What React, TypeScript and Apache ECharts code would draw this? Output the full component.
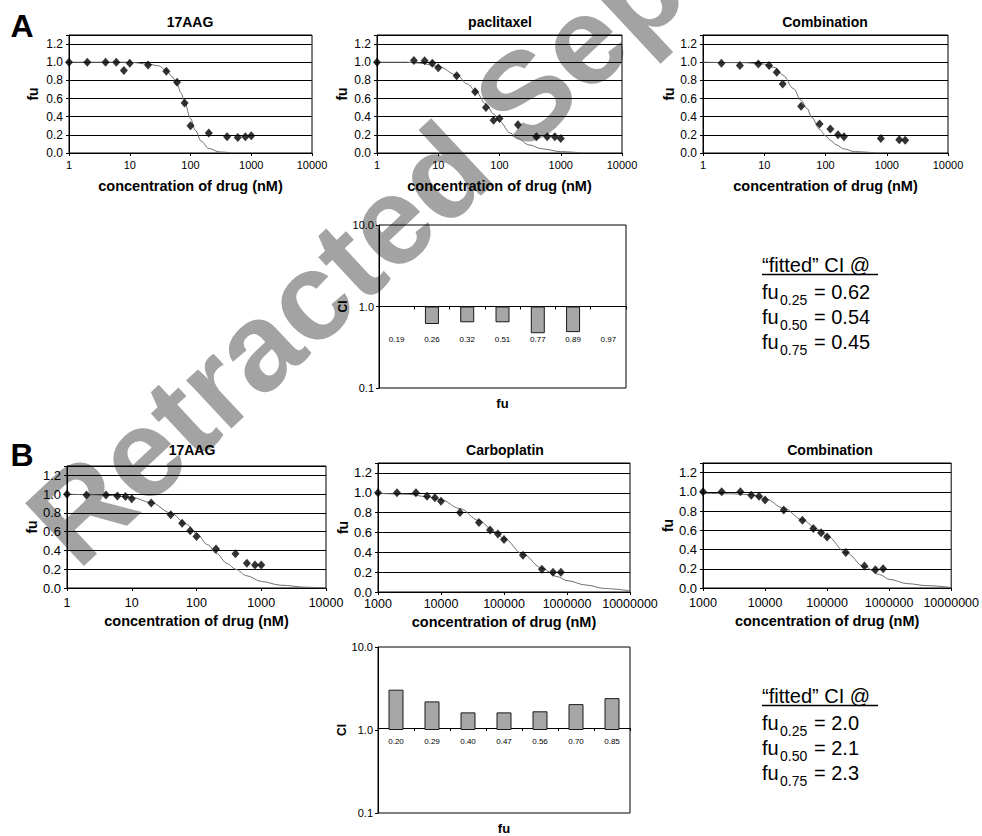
import React, { useEffect, useRef } from 'react';
import * as echarts from 'echarts';

const FONT = '"Liberation Sans", Arial, Helvetica, sans-serif';

// ---------- Panel A ----------
// 17AAG
const a17Conc = [1, 2, 4, 6, 8, 10, 20, 40, 60, 80, 100, 200, 400, 600, 800, 1000];
const a17Fu = [1.0, 1.0, 1.0, 1.0, 0.91, 0.99, 0.97, 0.9, 0.78, 0.55, 0.3, 0.22, 0.18, 0.17, 0.18, 0.19];
const a17FitConc = [1, 10, 20, 30, 40, 50, 60, 70, 80, 100, 120, 150, 200, 300, 500];
const a17FitFu = [1.0, 1.0, 0.98, 0.96, 0.91, 0.84, 0.76, 0.66, 0.56, 0.38, 0.25, 0.13, 0.05, 0.012, 0.0];
// paclitaxel
const aPacConc = [1, 4, 6, 8, 10, 20, 40, 60, 80, 100, 200, 400, 600, 800, 1000];
const aPacFu = [1.0, 1.02, 1.015, 0.99, 0.94, 0.85, 0.675, 0.5, 0.36, 0.38, 0.31, 0.18, 0.18, 0.18, 0.16];
const aPacFitConc = [1, 3, 5, 10, 20, 30, 40, 60, 80, 100, 150, 200, 300, 500, 1000, 2300];
const aPacFitFu = [1.0, 1.0, 0.99, 0.955, 0.86, 0.76, 0.69, 0.54, 0.43, 0.35, 0.22, 0.16, 0.09, 0.045, 0.015, 0.0];
// combination
const aComConc = [2, 4, 8, 12, 16, 20, 40, 80, 120, 160, 200, 800, 1600, 2000];
const aComFu = [0.99, 0.965, 0.98, 0.965, 0.89, 0.76, 0.515, 0.32, 0.265, 0.2, 0.18, 0.16, 0.145, 0.14];
const aComFitConc = [1, 5, 10, 15, 20, 30, 40, 50, 60, 80, 100, 120, 150, 200, 300, 700];
const aComFitFu = [1.0, 0.995, 0.98, 0.94, 0.86, 0.71, 0.58, 0.49, 0.39, 0.26, 0.19, 0.14, 0.09, 0.045, 0.015, 0.0];
// CI bars A
const barACats = ['0.19', '0.26', '0.32', '0.51', '0.77', '0.89', '0.97'];
const barACI = [null, 0.61, 0.64, 0.64, 0.47, 0.485, null];
const fittedA = ['0.62', '0.54', '0.45'];

// ---------- Panel B ----------
const b17Conc = [1, 2, 4, 6, 8, 10, 20, 40, 60, 80, 100, 200, 400, 600, 800, 1000];
const b17Fu = [1.0, 0.99, 0.99, 0.98, 0.975, 0.95, 0.905, 0.78, 0.69, 0.61, 0.55, 0.415, 0.365, 0.265, 0.245, 0.245];
const b17FitConc = [1, 2, 5, 10, 20, 40, 70, 100, 150, 200, 300, 400, 600, 1000, 2000, 5000, 10000];
const b17FitFu = [1.0, 0.995, 0.985, 0.965, 0.91, 0.8, 0.68, 0.58, 0.46, 0.37, 0.26, 0.2, 0.13, 0.07, 0.03, 0.008, 0.0];
const bCarConc = [1000, 2000, 4000, 6000, 8000, 10000, 20000, 40000, 60000, 80000, 100000, 200000, 400000, 600000, 800000];
const bCarFu = [1.0, 1.0, 1.0, 0.965, 0.95, 0.915, 0.8, 0.7, 0.625, 0.585, 0.53, 0.37, 0.23, 0.2, 0.2];
const bCarFitConc = [1000, 3000, 6000, 10000, 20000, 40000, 70000, 100000, 200000, 400000, 700000, 1000000, 2000000, 4000000, 10000000];
const bCarFitFu = [0.995, 0.985, 0.96, 0.93, 0.84, 0.72, 0.61, 0.54, 0.38, 0.24, 0.155, 0.115, 0.07, 0.035, 0.012];
const bComConc = [1000, 2000, 4000, 6000, 8000, 10000, 20000, 40000, 60000, 80000, 100000, 200000, 400000, 600000, 800000];
const bComFu = [1.0, 1.0, 1.0, 0.965, 0.955, 0.915, 0.81, 0.705, 0.62, 0.575, 0.53, 0.37, 0.23, 0.19, 0.2];
const bComFitConc = [1000, 3000, 6000, 10000, 20000, 40000, 70000, 100000, 200000, 400000, 700000, 1000000, 2000000, 4000000, 10000000];
const bComFitFu = [0.985, 0.98, 0.97, 0.93, 0.83, 0.71, 0.61, 0.54, 0.37, 0.22, 0.14, 0.09, 0.045, 0.025, 0.005];
const barBCats = ['0.20', '0.29', '0.40', '0.47', '0.56', '0.70', '0.85'];
const barBCI = [3.06, 2.21, 1.63, 1.63, 1.68, 2.05, 2.42];
const fittedB = ['2.0', '2.1', '2.3'];

const fuSubs = ['0.25', '0.50', '0.75'];
const xTitle = 'concentration of drug (nM)';

type Panel = {
  grid: { left: number; top: number; width: number; height: number };
  xMin: number; xMax: number;
  conc: number[]; fu: number[]; fitC: number[]; fitF: number[];
  title: string; titleX: number; titleY: number;
  xLabelSize: number; xLabelMargin: number; yLabelSize: number;
  yNameGap: number; xNameGap: number;
};

const panels: Panel[] = [
  { grid: { left: 69, top: 35, width: 243, height: 118 }, xMin: 1, xMax: 1e4, conc: a17Conc, fu: a17Fu, fitC: a17FitConc, fitF: a17FitFu, title: '17AAG', titleX: 190, titleY: 22, xLabelSize: 11, xLabelMargin: 6, yLabelSize: 12, yNameGap: 29, xNameGap: 25 },
  { grid: { left: 377, top: 35, width: 245, height: 118 }, xMin: 1, xMax: 1e4, conc: aPacConc, fu: aPacFu, fitC: aPacFitConc, fitF: aPacFitFu, title: 'paclitaxel', titleX: 500, titleY: 22, xLabelSize: 11, xLabelMargin: 6, yLabelSize: 12, yNameGap: 28, xNameGap: 25 },
  { grid: { left: 703, top: 35, width: 245, height: 118 }, xMin: 1, xMax: 1e4, conc: aComConc, fu: aComFu, fitC: aComFitConc, fitF: aComFitFu, title: 'Combination', titleX: 825, titleY: 22, xLabelSize: 11, xLabelMargin: 6, yLabelSize: 12, yNameGap: 24, xNameGap: 25 },
  { grid: { left: 67, top: 466, width: 259, height: 122 }, xMin: 1, xMax: 1e4, conc: b17Conc, fu: b17Fu, fitC: b17FitConc, fitF: b17FitFu, title: '17AAG', titleX: 192, titleY: 450, xLabelSize: 12.5, xLabelMargin: 8, yLabelSize: 13, yNameGap: 27, xNameGap: 25 },
  { grid: { left: 378, top: 463, width: 252, height: 129 }, xMin: 1000, xMax: 1e7, conc: bCarConc, fu: bCarFu, fitC: bCarFitConc, fitF: bCarFitFu, title: 'Carboplatin', titleX: 505, titleY: 450, xLabelSize: 12.5, xLabelMargin: 5, yLabelSize: 13, yNameGap: 26, xNameGap: 22 },
  { grid: { left: 703, top: 463, width: 249, height: 125 }, xMin: 1000, xMax: 1e7, conc: bComConc, fu: bComFu, fitC: bComFitConc, fitF: bComFitFu, title: 'Combination', titleX: 830, titleY: 450, xLabelSize: 12.5, xLabelMargin: 8, yLabelSize: 13, yNameGap: 28, xNameGap: 25 },
];

type BarPanel = {
  grid: { left: number; top: number; width: number; height: number };
  cats: string[]; ci: (number | null)[]; labelMargin: number; barWidth: number;
};
const barPanels: BarPanel[] = [
  { grid: { left: 379, top: 225, width: 247, height: 163 }, cats: barACats, ci: barACI, labelMargin: 29, barWidth: 14 },
  { grid: { left: 378, top: 647, width: 252, height: 170 }, cats: barBCats, ci: barBCI, labelMargin: 9, barWidth: 15 },
];

function txt(x: number, y: number, text: string, fontSize: number, extra: any = {}) {
  const align = extra.align || 'left';
  return {
    type: 'text', x, y, z: 5,
    rotation: extra.rotation || 0,
    style: {
      text, fontSize, fontFamily: FONT, fontWeight: extra.weight || 'normal', fill: extra.fill || '#000',
      align, verticalAlign: 'middle', textAlign: align, textVerticalAlign: 'middle',
    },
  };
}

function buildOption() {
  const grid: any[] = [];
  const xAxis: any[] = [];
  const yAxis: any[] = [];
  const series: any[] = [];
  const elements: any[] = [];

  panels.forEach((p, i) => {
    grid.push({ ...p.grid, show: true, borderColor: '#000', borderWidth: 1, backgroundColor: 'transparent' });
    xAxis.push({
      type: 'log', logBase: 10, gridIndex: i, min: p.xMin, max: p.xMax,
      axisLine: { onZero: false, lineStyle: { color: '#000', width: 1 } },
      axisTick: { show: true, length: 3, lineStyle: { color: '#000' } },
      minorTick: { show: false }, splitLine: { show: false },
      axisLabel: { fontSize: p.xLabelSize, fontFamily: FONT, color: '#000', margin: p.xLabelMargin, formatter: (v: number) => String(Math.round(v)) },
      name: xTitle, nameLocation: 'middle', nameGap: p.xNameGap,
      nameTextStyle: { fontSize: 14.5, fontWeight: 'bold', fontFamily: FONT, color: '#000' },
    });
    yAxis.push({
      type: 'value', gridIndex: i, min: 0, max: 1.3, interval: 0.2,
      axisLine: { show: true, onZero: false, lineStyle: { color: '#000', width: 1 } },
      axisTick: { show: true, length: 3, lineStyle: { color: '#000' } },
      splitLine: { show: true, lineStyle: { color: '#000', width: 1 } },
      axisLabel: { fontSize: p.yLabelSize, fontFamily: FONT, color: '#000', margin: 6, formatter: (v: number) => (Math.abs(v - 1.3) < 1e-6 ? '' : v.toFixed(1)) },
      name: 'fu', nameLocation: 'middle', nameGap: p.yNameGap, nameRotate: 90,
      nameTextStyle: { fontSize: 14, fontWeight: 'bold', fontFamily: FONT, color: '#000' },
    });
    series.push({
      type: 'line', xAxisIndex: i, yAxisIndex: i, data: p.fitC.map((c, k) => [c, p.fitF[k]]),
      showSymbol: false, symbol: 'none', smooth: 0.35, smoothMonotone: 'x',
      lineStyle: { color: '#6e6e6e', width: 1 }, z: 2, silent: true,
    });
    series.push({
      type: 'scatter', xAxisIndex: i, yAxisIndex: i, data: p.conc.map((c, k) => [c, p.fu[k]]),
      symbol: 'diamond', symbolSize: [8, 9], itemStyle: { color: '#000' }, z: 3, silent: true,
    });
    elements.push(txt(p.titleX, p.titleY, p.title, 14, { align: 'center', weight: 'bold' }));
  });

  barPanels.forEach((b, j) => {
    const i = panels.length + j;
    grid.push({ ...b.grid, show: true, borderColor: '#000', borderWidth: 1, backgroundColor: 'transparent' });
    xAxis.push({
      type: 'category', gridIndex: i, data: b.cats, position: 'bottom', offset: -b.grid.height / 2,
      axisLine: { onZero: false, lineStyle: { color: '#000', width: 1 } },
      axisTick: { show: true, length: 3, lineStyle: { color: '#000' } },
      axisLabel: { fontSize: 8, fontFamily: FONT, color: '#000', margin: b.labelMargin, interval: 0 },
      splitLine: { show: false },
      name: 'fu', nameLocation: 'middle', nameGap: b.grid.height / 2 + 9,
      nameTextStyle: { fontSize: 13, fontWeight: 'bold', fontFamily: FONT, color: '#000' },
    });
    yAxis.push({
      type: 'log', logBase: 10, gridIndex: i, min: 0.1, max: 10,
      axisLine: { show: true, onZero: false, lineStyle: { color: '#000', width: 1 } },
      axisTick: { show: true, length: 3, lineStyle: { color: '#000' } },
      minorTick: { show: false }, splitLine: { show: false },
      axisLabel: { fontSize: 11, fontFamily: FONT, color: '#000', margin: 5, formatter: (v: number) => v.toFixed(1) },
      name: 'CI', nameLocation: 'middle', nameGap: 29, nameRotate: 90,
      nameTextStyle: { fontSize: 12, fontWeight: 'bold', fontFamily: FONT, color: '#000' },
    });
    series.push({
      type: 'bar', xAxisIndex: i, yAxisIndex: i, data: b.ci.map((v) => (v == null ? '-' : v)),
      barWidth: b.barWidth, itemStyle: { color: '#a6a6a6', borderColor: '#1a1a1a', borderWidth: 1 }, z: 3, silent: true,
    });
  });

  // panel letters
  elements.push(txt(22, 26, 'A', 32, { align: 'center', weight: 'bold' }));
  elements.push(txt(22, 455, 'B', 32, { align: 'center', weight: 'bold' }));

  // fitted CI blocks
  const blocks = [
    { y0: 265, vals: fittedA },
    { y0: 696, vals: fittedB },
  ];
  blocks.forEach((bk) => {
    elements.push(txt(762, bk.y0, '\u201Cfitted\u201D CI @', 20));
    elements.push({ type: 'line', z: 5, shape: { x1: 762, y1: bk.y0 + 9.5, x2: 878, y2: bk.y0 + 9.5 }, style: { stroke: '#000', lineWidth: 1.3 } });
    bk.vals.forEach((v, k) => {
      const y = bk.y0 + 27 + k * 25;
      elements.push(txt(762, y, 'fu', 20));
      elements.push(txt(780, y + 8, fuSubs[k], 14));
      elements.push(txt(814, y, '= ' + v, 20));
    });
  });

  // watermark (drawn underneath everything else)
  const F = 125;
  const th = (43 * Math.PI) / 180;
  const bx = 78, by = 572;
  elements.push({
    type: 'text', z: -1, rotation: th,
    x: bx - 0.35 * F * Math.sin(th), y: by - 0.35 * F * Math.cos(th),
    style: { text: 'Retracted Sep', fontSize: F, fontWeight: 'bold', fontFamily: FONT, fill: '#a3a3a3', align: 'left', verticalAlign: 'middle', textAlign: 'left', textVerticalAlign: 'middle' },
    silent: true,
  });

  return {
    animation: false,
    backgroundColor: '#fff',
    grid, xAxis, yAxis, series,
    graphic: { elements },
  };
}

export default function App() {
  const ref = useRef<HTMLDivElement>(null);
  useEffect(() => {
    document.body.style.margin = '0';
    const chart = echarts.init(ref.current!, null, { renderer: 'svg' });
    chart.setOption(buildOption() as any);
    return () => chart.dispose();
  }, []);
  return <div ref={ref} style={{ width: 982, height: 836 }} />;
}
